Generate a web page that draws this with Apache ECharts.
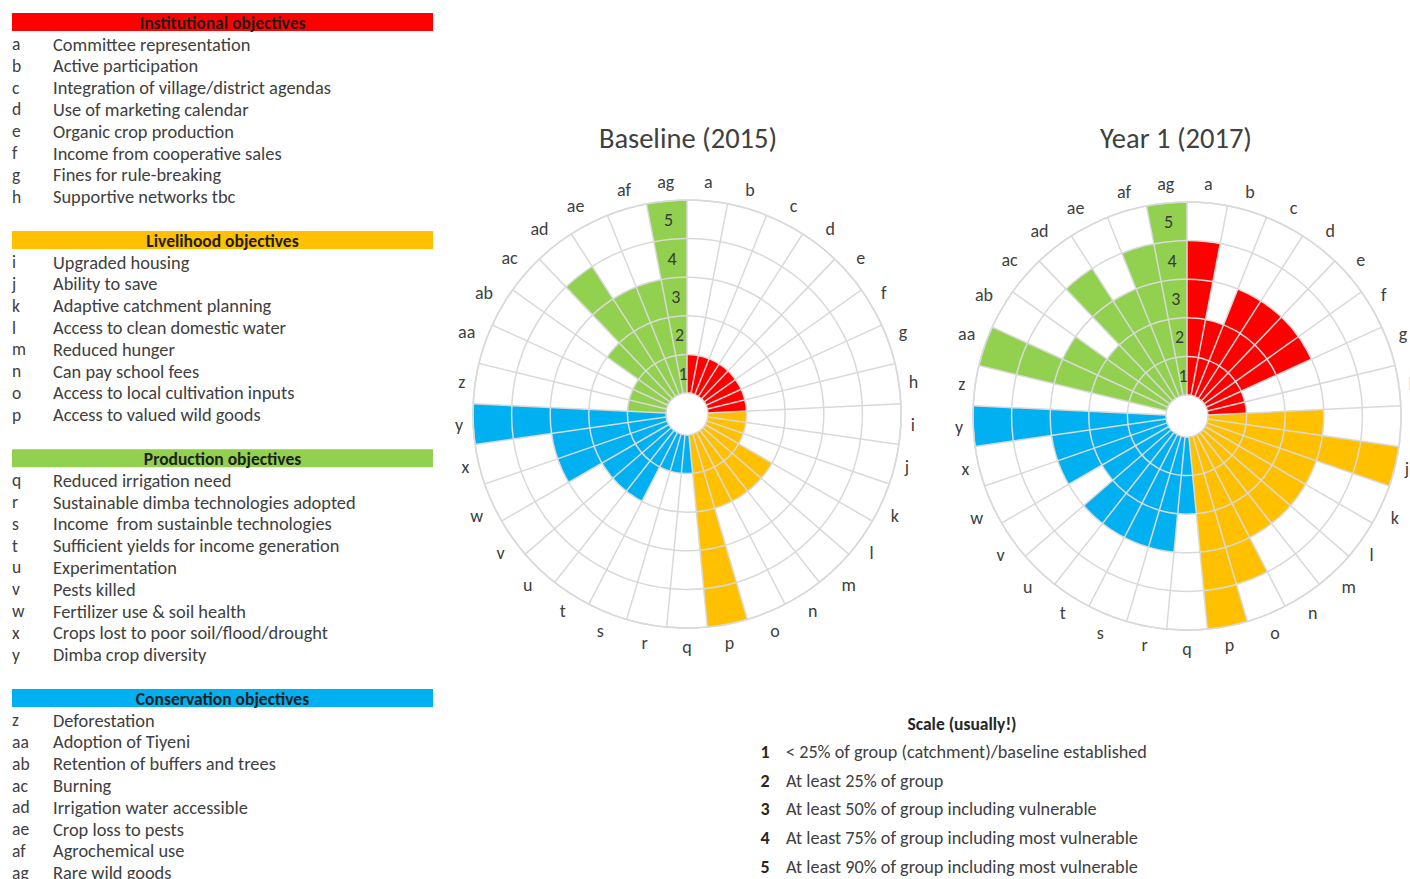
<!DOCTYPE html>
<html>
<head>
<meta charset="utf-8">
<script src="https://cdn.jsdelivr.net/npm/echarts@6/dist/echarts.min.js"></script>
<style>
html,body{margin:0;padding:0;background:#ffffff;}
#chart{width:1410px;height:879px;}
</style>
</head>
<body>
<div id="chart"></div>
<script>
// ---------------- data ----------------
const categories = ['a','b','c','d','e','f','g','h','i','j','k','l','m','n','o','p',
  'q','r','s','t','u','v','w','x','y','z','aa','ab','ac','ad','ae','af','ag'];

const institutionalCodes = ['a','b','c','d','e','f','g','h'];
const institutionalItems = ['Committee representation','Active participation','Integration of village/district agendas',
  'Use of marketing calendar','Organic crop production','Income from cooperative sales','Fines for rule-breaking','Supportive networks tbc'];
const livelihoodCodes = ['i','j','k','l','m','n','o','p'];
const livelihoodItems = ['Upgraded housing','Ability to save','Adaptive catchment planning','Access to clean domestic water',
  'Reduced hunger','Can pay school fees','Access to local cultivation inputs','Access to valued wild goods'];
const productionCodes = ['q','r','s','t','u','v','w','x','y'];
const productionItems = ['Reduced irrigation need','Sustainable dimba technologies adopted','Income  from sustainble technologies',
  'Sufficient yields for income generation','Experimentation','Pests killed','Fertilizer use & soil health',
  'Crops lost to poor soil/flood/drought','Dimba crop diversity'];
const conservationCodes = ['z','aa','ab','ac','ad','ae','af','ag'];
const conservationItems = ['Deforestation','Adoption of Tiyeni','Retention of buffers and trees','Burning',
  'Irrigation water accessible','Crop loss to pests','Agrochemical use','Rare wild goods'];

const groupTitles = ['Institutional objectives','Livelihood objectives','Production objectives','Conservation objectives'];
const headerColors = ['#ff0000','#ffc000','#92d050','#00b0f0'];
// colours used for the segments in the two charts (a-h, i-p, q-y, z-ag)
const segmentColors = ['#ff0000','#ffc000','#00b0f0','#92d050'];

const baselineInstitutional = [1,1,1,1,1,1,1,1];
const baselineLivelihood    = [1,1,1,2,2,2,2,5];
const baselineProduction    = [1,1,1,2,2,2,3,3,5];
const baselineConservation  = [1,1,1,2,4,3,3,5];

const year1Institutional = [4,2,3,3,3,3,1,1];
const year1Livelihood    = [3,5,3,3,3,3,4,5];
const year1Production    = [2,3,3,3,3,2,3,3,5];
const year1Conservation  = [0,5,3,2,4,3,4,5];

const chartTitles = ['Baseline (2015)','Year 1 (2017)'];
const ringLabels = ['1','2','3','4','5'];

const scaleTitle = 'Scale (usually!)';
const scaleLevels = ['1','2','3','4','5'];
const scaleTexts = ['< 25% of group (catchment)/baseline established','At least 25% of group',
  'At least 50% of group including vulnerable','At least 75% of group including most vulnerable',
  'At least 90% of group including most vulnerable'];

// ---------------- layout / style ----------------
const FONT = 'Carlito, Calibri, Lato, sans-serif';
const TXT = '#404040';
const GRID = '#d9d9d9';
const centers = [[687, 414], [1187, 416]];
const radii = [21, 214];
const titlePos = [[688, 138], [1176, 138]];

function barData(groups) {
  const out = [];
  groups.forEach((arr, gi) => arr.forEach(v => out.push({ value: v, itemStyle: { color: segmentColors[gi] } })));
  return out;
}
const chartData = [
  barData([baselineInstitutional, baselineLivelihood, baselineProduction, baselineConservation]),
  barData([year1Institutional, year1Livelihood, year1Production, year1Conservation])
];

const polar = [], angleAxis = [], radiusAxis = [], series = [];
[0, 1].forEach(i => {
  polar.push({ center: centers[i], radius: radii });
  angleAxis.push({
    polarIndex: i, type: 'category', data: categories, startAngle: 90, clockwise: true, boundaryGap: true, z: 10,
    axisLine: { show: true, lineStyle: { color: GRID, width: 1.5 } },
    axisTick: { show: false },
    axisLabel: { color: TXT, fontSize: 18, fontFamily: FONT, margin: 10, interval: 0, hideOverlap: false },
    splitLine: { show: true, interval: 0, lineStyle: { color: GRID, width: 1.5 } }
  });
  radiusAxis.push({
    polarIndex: i, type: 'value', min: 0, max: 5, interval: 1, z: 10,
    axisLine: { show: false }, axisTick: { show: false }, axisLabel: { show: false },
    splitLine: { show: true, lineStyle: { color: ['rgba(0,0,0,0)', GRID, GRID, GRID, GRID, GRID], width: 1.5 } }
  });
  series.push({
    type: 'bar', coordinateSystem: 'polar', polarIndex: i, data: chartData[i],
    barCategoryGap: '0%', barGap: '0%', silent: true, z: 2
  });
});
// label polars: ring numbers along the centre of the last sector
[0, 1].forEach(i => {
  polar.push({ center: centers[i], radius: radii });
  angleAxis.push({
    polarIndex: 2 + i, type: 'category', data: categories, startAngle: 90 + 180 / categories.length, show: false
  });
  radiusAxis.push({
    polarIndex: 2 + i, type: 'category', data: ringLabels, z: 12,
    axisLine: { show: false }, axisTick: { show: false }, splitLine: { show: false },
    axisLabel: { color: '#3a3a3a', fontSize: 18, fontFamily: FONT, margin: 0, align: 'center', verticalAlign: 'middle' }
  });
});

// ---------------- graphic texts ----------------
const graphic = [];
function text(x, y, str, opt) {
  opt = opt || {};
  graphic.push({
    type: 'text', x: x, y: y, silent: true, z: 20,
    style: {
      text: str, fill: opt.fill || TXT, fontSize: opt.size || 18.4, fontFamily: FONT,
      fontWeight: opt.weight || 'normal',
      textAlign: opt.align || 'left', align: opt.align || 'left',
      textVerticalAlign: 'middle', verticalAlign: 'middle'
    }
  });
}
chartTitles.forEach((t, i) => text(titlePos[i][0], titlePos[i][1], t, { size: 28.5, align: 'center' }));

const groupCodes = [institutionalCodes, livelihoodCodes, productionCodes, conservationCodes];
const groupItems = [institutionalItems, livelihoodItems, productionItems, conservationItems];
const ROW = 21.8, LIST_X = 12, LIST_W = 421, DESC_X = 53;
let H = 22;
groupTitles.forEach((g, gi) => {
  graphic.push({ type: 'rect', silent: true, z: 15, shape: { x: LIST_X, y: H - 9, width: LIST_W, height: 18 },
    style: { fill: headerColors[gi] } });
  text(LIST_X + LIST_W / 2, H + 0.5, g, { weight: 'bold', size: 17.5, fill: '#1e1e1e', align: 'center' });
  let y = H + 22;
  groupCodes[gi].forEach((c, k) => {
    y = H + 22 + ROW * k;
    text(LIST_X, y, c, { size: 17.5 });
    text(DESC_X, y, groupItems[gi][k], { size: 18.4 });
  });
  H = y + 43.5;
});

text(962, 724, scaleTitle, { weight: 'bold', size: 17.5, fill: '#262626', align: 'center' });
scaleLevels.forEach((lv, k) => {
  const y = 752 + 28.7 * k;
  text(765, y, lv, { weight: 'bold', size: 18, fill: '#262626', align: 'center' });
  text(786, y, scaleTexts[k], { size: 18.2 });
});

const chart = echarts.init(document.getElementById('chart'), null, { renderer: 'svg' });
chart.setOption({
  animation: false,
  backgroundColor: '#ffffff',
  polar: polar,
  angleAxis: angleAxis,
  radiusAxis: radiusAxis,
  series: series,
  graphic: graphic
});
</script>
</body>
</html>
